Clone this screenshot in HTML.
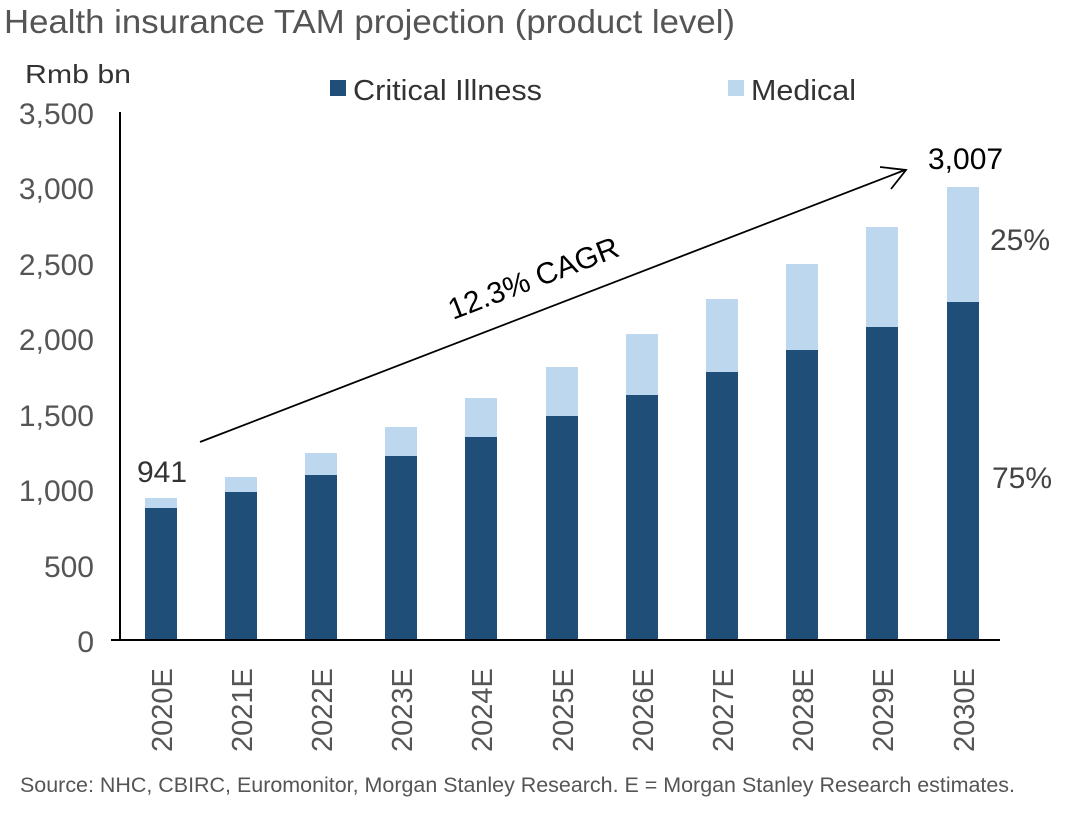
<!DOCTYPE html>
<html><head><meta charset="utf-8"><style>
body{margin:0;background:#fff;}
svg text{font-family:"Liberation Sans",Arial,sans-serif;}
</style></head><body>
<svg width="1080" height="814" viewBox="0 0 1080 814">
<text x="4" y="33" font-size="33" fill="#555" textLength="731" lengthAdjust="spacingAndGlyphs">Health insurance TAM projection (product level)</text>
<text x="25" y="83" font-size="26" fill="#333" textLength="106" lengthAdjust="spacingAndGlyphs">Rmb bn</text>
<rect x="330" y="80" width="16" height="16" fill="#1f4e79"/>
<text x="353" y="100" font-size="29" fill="#333" textLength="189" lengthAdjust="spacingAndGlyphs">Critical Illness</text>
<rect x="728" y="80" width="16" height="16" fill="#bdd7ee"/>
<text x="751" y="100" font-size="29" fill="#333" textLength="105" lengthAdjust="spacingAndGlyphs">Medical</text>
<g font-size="30" fill="#555" text-anchor="end">
<text x="94" y="652">0</text>
<text x="94" y="577">500</text>
<text x="94" y="501">1,000</text>
<text x="94" y="426">1,500</text>
<text x="94" y="350">2,000</text>
<text x="94" y="275">2,500</text>
<text x="94" y="199">3,000</text>
<text x="94" y="124">3,500</text>
</g>
<g id="bars">
<rect x="145" y="498" width="32" height="10" fill="#bdd7ee"/><rect x="145" y="508" width="32" height="133" fill="#1f4e79"/>
<rect x="225" y="477" width="32" height="15" fill="#bdd7ee"/><rect x="225" y="492" width="32" height="149" fill="#1f4e79"/>
<rect x="305" y="453" width="32" height="22" fill="#bdd7ee"/><rect x="305" y="475" width="32" height="166" fill="#1f4e79"/>
<rect x="385" y="427" width="32" height="29" fill="#bdd7ee"/><rect x="385" y="456" width="32" height="185" fill="#1f4e79"/>
<rect x="465" y="398" width="32" height="39" fill="#bdd7ee"/><rect x="465" y="437" width="32" height="204" fill="#1f4e79"/>
<rect x="546" y="367" width="32" height="49" fill="#bdd7ee"/><rect x="546" y="416" width="32" height="225" fill="#1f4e79"/>
<rect x="626" y="334" width="32" height="61" fill="#bdd7ee"/><rect x="626" y="395" width="32" height="246" fill="#1f4e79"/>
<rect x="706" y="299" width="32" height="73" fill="#bdd7ee"/><rect x="706" y="372" width="32" height="269" fill="#1f4e79"/>
<rect x="786" y="264" width="32" height="86" fill="#bdd7ee"/><rect x="786" y="350" width="32" height="291" fill="#1f4e79"/>
<rect x="866" y="227" width="32" height="100" fill="#bdd7ee"/><rect x="866" y="327" width="32" height="314" fill="#1f4e79"/>
<rect x="947" y="187" width="32" height="115" fill="#bdd7ee"/><rect x="947" y="302" width="32" height="339" fill="#1f4e79"/>
</g>
<line x1="120" y1="112" x2="120" y2="641" stroke="#000" stroke-width="2"/>
<line x1="111" y1="640" x2="1000" y2="640" stroke="#000" stroke-width="2"/>
<g font-size="29" fill="#555">
<text transform="translate(172,752) rotate(-90)">2020E</text>
<text transform="translate(252,752) rotate(-90)">2021E</text>
<text transform="translate(332,752) rotate(-90)">2022E</text>
<text transform="translate(412,752) rotate(-90)">2023E</text>
<text transform="translate(492,752) rotate(-90)">2024E</text>
<text transform="translate(573,752) rotate(-90)">2025E</text>
<text transform="translate(653,752) rotate(-90)">2026E</text>
<text transform="translate(733,752) rotate(-90)">2027E</text>
<text transform="translate(813,752) rotate(-90)">2028E</text>
<text transform="translate(893,752) rotate(-90)">2029E</text>
<text transform="translate(974,752) rotate(-90)">2030E</text>
</g>
<line x1="200" y1="442" x2="905" y2="170" stroke="#000" stroke-width="1.8"/>
<polyline points="880,167 906,170 891,189" fill="none" stroke="#000" stroke-width="1.8"/>
<text transform="translate(453,320) rotate(-21)" font-size="30" fill="#000">12.3% CAGR</text>
<text x="137" y="482" font-size="30" fill="#333">941</text>
<text x="928" y="169" font-size="30" fill="#000">3,007</text>
<text x="990" y="250" font-size="30" fill="#444">25%</text>
<text x="992" y="488" font-size="30" fill="#444">75%</text>
<text x="20" y="792" font-size="21" fill="#555" textLength="995" lengthAdjust="spacingAndGlyphs">Source: NHC, CBIRC, Euromonitor, Morgan Stanley Research. E = Morgan Stanley Research estimates.</text>
</svg>
</body></html>
